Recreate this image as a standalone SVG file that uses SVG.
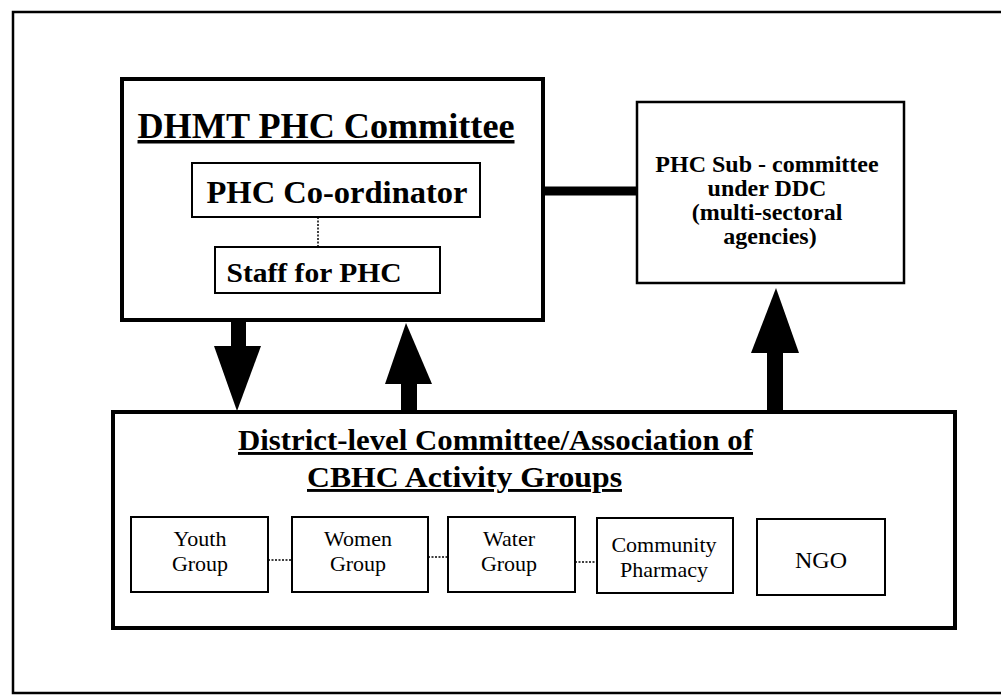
<svg xmlns="http://www.w3.org/2000/svg" width="1001" height="696" viewBox="0 0 1001 696">
<style>
.frame{fill:none;stroke:#000;stroke-width:2.5}
.big{fill:none;stroke:#000;stroke-width:4}
.box{fill:#fff;stroke:#000;stroke-width:2}
.b{font-family:"Liberation Serif","Times New Roman",serif;font-weight:bold;fill:#000}
.r{font-family:"Liberation Serif","Times New Roman",serif;fill:#000}
.u{text-decoration:underline}
.dot{stroke:#000;stroke-width:1.5;stroke-dasharray:2 1.5;fill:none}
.arr{fill:#000}
</style>
<rect width="1001" height="696" fill="#fff"/>
<rect class="frame" x="13" y="12" width="1000" height="681"/>

<g id="connectors">
  <rect class="arr" x="543" y="186.5" width="94" height="9"/>
  <line class="dot" x1="318" y1="217" x2="318" y2="247"/>
  <line class="dot" x1="268" y1="560" x2="292" y2="560"/>
  <line class="dot" x1="428" y1="557" x2="448" y2="557"/>
  <line class="dot" x1="575" y1="562" x2="597" y2="562"/>
  <g id="arrow-down">
    <rect class="arr" x="231" y="320" width="15" height="27"/>
    <polygon class="arr" points="214,346 261,346 237,411"/>
  </g>
  <g id="arrow-up-mid">
    <polygon class="arr" points="406,323 432,384 385,384"/>
    <rect class="arr" x="401" y="383" width="16" height="29"/>
  </g>
  <g id="arrow-up-right">
    <polygon class="arr" points="776,288 799,353 751,353"/>
    <rect class="arr" x="767" y="352" width="16" height="60"/>
  </g>
</g>

<g id="dhmt">
  <rect class="big" x="122" y="79" width="421" height="241"/>
  <text class="b u" x="326" y="138" font-size="35" text-anchor="middle" textLength="377" lengthAdjust="spacingAndGlyphs">DHMT PHC Committee</text>
</g>
<g id="coordinator">
  <rect class="box" x="192" y="163" width="288" height="54"/>
  <text class="b" x="337" y="203" font-size="32" text-anchor="middle" textLength="261" lengthAdjust="spacingAndGlyphs">PHC Co-ordinator</text>
</g>
<g id="staff">
  <rect class="box" x="215" y="247" width="225" height="46"/>
  <text class="b" x="314" y="282" font-size="28" text-anchor="middle" textLength="175" lengthAdjust="spacingAndGlyphs">Staff for PHC</text>
</g>

<g id="subcommittee">
  <rect class="box" x="637" y="102" width="267" height="181" style="stroke-width:2.5"/>
  <text class="b" font-size="24" text-anchor="middle">
    <tspan x="770" y="172">PHC Sub - committee</tspan>
    <tspan x="770" y="196">under DDC</tspan>
    <tspan x="770" y="220">(multi-sectoral</tspan>
    <tspan x="770" y="244">agencies)</tspan>
  </text>
</g>

<g id="district">
  <rect class="big" x="113" y="412" width="842" height="216"/>
  <text class="b u" x="238" y="450" font-size="29" textLength="515" lengthAdjust="spacingAndGlyphs">District-level Committee/Association of</text>
  <text class="b u" x="307" y="487" font-size="29" textLength="315" lengthAdjust="spacingAndGlyphs">CBHC Activity Groups</text>
</g>

<g id="youth">
  <rect class="box" x="131" y="517" width="137" height="75"/>
  <text class="r" font-size="22" text-anchor="middle"><tspan x="200" y="546">Youth</tspan><tspan x="200" y="571">Group</tspan></text>
</g>
<g id="women">
  <rect class="box" x="292" y="517" width="136" height="75"/>
  <text class="r" font-size="22" text-anchor="middle"><tspan x="358" y="546">Women</tspan><tspan x="358" y="571">Group</tspan></text>
</g>
<g id="water">
  <rect class="box" x="448" y="517" width="127" height="75"/>
  <text class="r" font-size="22" text-anchor="middle"><tspan x="509" y="546">Water</tspan><tspan x="509" y="571">Group</tspan></text>
</g>
<g id="pharmacy">
  <rect class="box" x="597" y="518" width="136" height="75"/>
  <text class="r" font-size="22" text-anchor="middle"><tspan x="664" y="552">Community</tspan><tspan x="664" y="577">Pharmacy</tspan></text>
</g>
<g id="ngo">
  <rect class="box" x="757" y="519" width="128" height="76"/>
  <text class="r" x="821" y="568" font-size="24" text-anchor="middle">NGO</text>
</g>
</svg>
